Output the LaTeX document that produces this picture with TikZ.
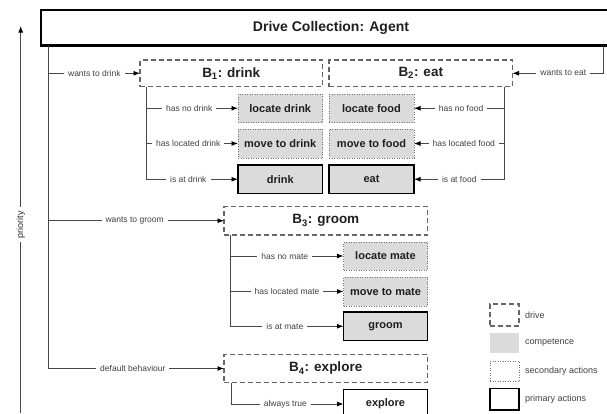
\documentclass[tikz,border=0pt]{standalone}
\usepackage{fontspec}
\setmainfont{Liberation Sans}
\usetikzlibrary{arrows.meta}
\begin{document}
\begin{tikzpicture}[x=1pt,y=-1pt,
  box/.style={rectangle, inner sep=0pt, outer sep=0pt, font=\bfseries\fontsize{11}{13}\selectfont, text=black!88},
  drivebox/.style={box, draw=black!60, line width=1.1pt, dash pattern=on 5pt off 3pt, font=\bfseries\fontsize{13.5}{16}\selectfont},
  secbox/.style={box, fill=black!14, draw=black!55, line width=0.9pt, dash pattern=on 0.9pt off 1.6pt},
  primbox/.style={box, fill=black!14, draw=black, line width=1.5pt},
  conn/.style={draw=black!72, line width=0.9pt},
  arr/.style={conn, -{Latex[length=6.5pt,width=5pt,color=black]}},
  lbl/.style={fill=white, inner xsep=4pt, inner ysep=1pt, font=\fontsize{8.5}{10}\selectfont, text=black!75},
  legtext/.style={anchor=west, inner sep=0pt, font=\fontsize{9}{11}\selectfont, text=black!75},
]
\useasboundingbox (0,0) rectangle (607,413);
\clip (0,0) rectangle (607,413);

% top drive collection
\node[box, draw=black, line width=2.2pt, minimum width=580pt, minimum height=35.5pt,
      font=\bfseries\fontsize{14}{17}\selectfont] (coll) at (331,27.75) {Drive Collection: Agent};

% drives
\node[drivebox, minimum width=182.5pt, minimum height=26.5pt] (b1) at (231.25,73.25) {B\textsubscript{1}: drink};
\node[drivebox, minimum width=183.5pt, minimum height=26.5pt] (b2) at (420.75,73.25) {B\textsubscript{2}: eat};
\node[drivebox, minimum width=203.5pt, minimum height=28.5pt] (b3) at (325.75,220.75) {B\textsubscript{3}: groom};
\node[drivebox, minimum width=203.5pt, minimum height=28pt] (b4) at (325.75,368.5) {B\textsubscript{4}: explore};

% B1 actions
\node[secbox, minimum width=84.5pt, minimum height=28.5pt] (ld) at (280.25,108.25) {locate drink};
\node[secbox, minimum width=84.5pt, minimum height=29pt] (md) at (280.25,143.5) {move to drink};
\node[primbox, minimum width=84.5pt, minimum height=28.5pt] (dr) at (280.25,179.25) {drink};
% B2 actions
\node[secbox, minimum width=85pt, minimum height=28.5pt] (lf) at (371.5,108.25) {locate food};
\node[secbox, minimum width=85pt, minimum height=29pt] (mf) at (371.5,143.5) {move to food};
\node[primbox, minimum width=85pt, minimum height=28.5pt] (et) at (371.5,179.25) {eat};
% B3 actions
\node[secbox, minimum width=84pt, minimum height=28pt] (lm) at (385.5,256) {locate mate};
\node[secbox, minimum width=84pt, minimum height=29pt] (mm) at (385.5,291.5) {move to mate};
\node[primbox, minimum width=84pt, minimum height=28.5pt] (gr) at (385.5,326.25) {groom};
% B4 action
\node[box, draw=black, line width=1.5pt, minimum width=84pt, minimum height=29pt] (ex) at (385.5,404) {explore};

% priority arrow
\coordinate (pbot) at (20.7,413);
\coordinate (ptop) at (20.7,26);
\draw[arr] (pbot) -- node[lbl, rotate=90, pos=0.486, font=\fontsize{9}{11}\selectfont, text=black!85]{priority} (ptop);

% collection connectors
\coordinate (cl) at (48.7,45.5);
\coordinate (cr) at (603.3,45.5);
\draw[arr] (cl |- b1.west) -- node[lbl]{wants to drink} (b1.west);
\draw[arr] (cl |- b3.west) -- node[lbl, pos=0.49]{wants to groom} (b3.west);
\draw[arr] (cl) |- node[lbl, pos=0.74]{default behaviour} (b4.west);
\draw[arr] (cr) |- node[lbl, pos=0.72]{wants to eat} (b2.east);

% B1 connectors
\coordinate (b1v) at ([xshift=6pt]b1.south west);
\draw[arr] (b1v |- ld.west) -- node[lbl, pos=0.47]{has no drink} (ld.west);
\draw[arr] (b1v |- md.west) -- node[lbl, pos=0.46]{has located drink} (md.west);
\draw[arr] (b1v) |- node[lbl, pos=0.73]{is at drink} (dr.west);

% B2 connectors
\coordinate (b2v) at ([xshift=-8pt]b2.south east);
\draw[arr] (b2v |- lf.east) -- node[lbl, pos=0.48]{has no food} (lf.east);
\draw[arr] (b2v |- mf.east) -- node[lbl, pos=0.45]{has located food} (mf.east);
\draw[arr] (b2v) |- node[lbl, pos=0.75]{is at food} (et.east);

% B3 connectors
\coordinate (b3v) at ([xshift=6.7pt]b3.south west);
\draw[arr] (b3v |- lm.west) -- node[lbl, pos=0.48]{has no mate} (lm.west);
\draw[arr] (b3v |- mm.west) -- node[lbl, pos=0.5]{has located mate} (mm.west);
\draw[arr] (b3v) |- node[lbl, pos=0.74]{is at mate} (gr.west);

% B4 connector
\coordinate (b4v) at ([xshift=7.7pt]b4.south west);
\draw[arr] (b4v) |- node[lbl, pos=0.74]{always true} (ex.west);

% legend
\node[box, draw=black!60, line width=1.1pt, dash pattern=on 5pt off 3pt, minimum width=29pt, minimum height=22pt] (lg1) at (504.5,315) {};
\node[box, fill=black!14, minimum width=29pt, minimum height=20.5pt] (lg2) at (504.5,343) {};
\node[box, draw=black!55, line width=0.9pt, dash pattern=on 0.9pt off 1.6pt, minimum width=29pt, minimum height=20.5pt] (lg3) at (504.5,371.25) {};
\node[box, draw=black, line width=1.5pt, minimum width=29pt, minimum height=21.5pt] (lg4) at (504.5,399.25) {};
\node[legtext] (lt1) at ([xshift=6pt]lg1.east) {drive};
\node[legtext] (lt2) at ([xshift=6pt]lg2.east) {competence};
\node[legtext] (lt3) at ([xshift=6pt]lg3.east) {secondary actions};
\node[legtext] (lt4) at ([xshift=6pt]lg4.east) {primary actions};
\end{tikzpicture}
\end{document}
